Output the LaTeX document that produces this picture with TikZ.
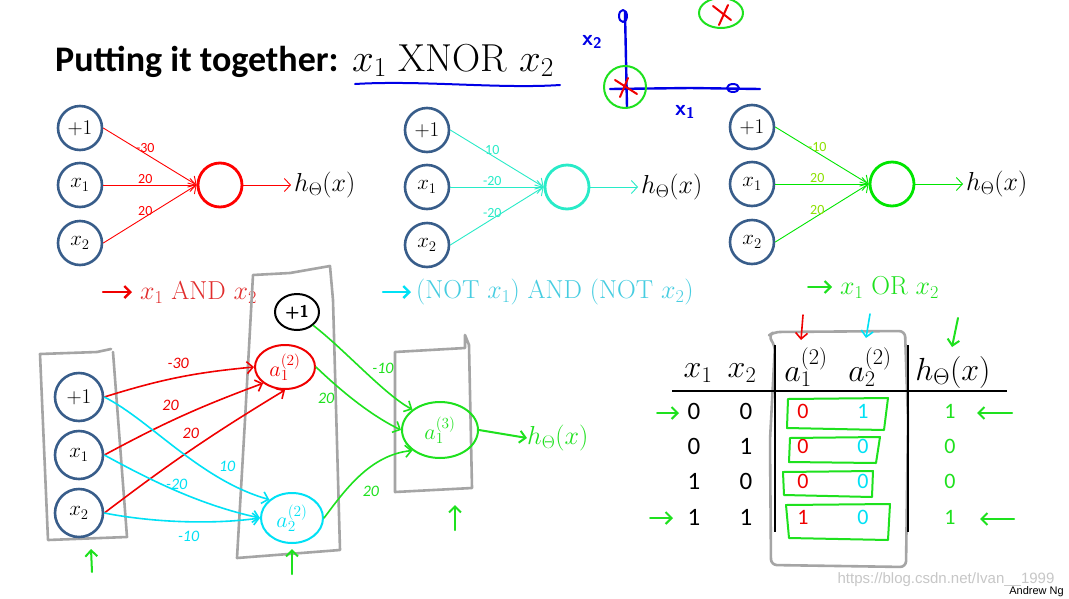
\RequirePackage{fix-cm}
\documentclass[tikz,border=0pt]{standalone}
\usepackage{fontspec}
\newfontfamily\calfont{Carlito}
\newfontfamily\arialfont{Liberation Sans}
\usetikzlibrary{arrows.meta,shapes.geometric}
\definecolor{unitblue}{RGB}{56,93,138}
\definecolor{netred}{RGB}{255,0,0}
\definecolor{netaqua}{RGB}{40,235,200}
\definecolor{netgreen}{RGB}{0,230,0}
\definecolor{wgreen}{RGB}{140,225,0}
\definecolor{andred}{RGB}{225,45,45}
\definecolor{notcyan}{RGB}{70,205,225}
\definecolor{penblue}{RGB}{0,0,230}
\definecolor{penred}{RGB}{240,0,0}
\definecolor{pencyan}{RGB}{0,225,245}
\definecolor{pengreen}{RGB}{30,225,30}
\definecolor{pengray}{RGB}{165,165,165}
\tikzset{
  unit/.style={circle,draw=unitblue,line width=2.6pt,fill=white,
    minimum size=44pt,inner sep=0pt,font=\fontsize{21}{24}\selectfont},
  outunit/.style={circle,draw=#1,line width=2.8pt,minimum size=44pt,inner sep=0pt},
  wire/.style={draw=#1,line width=0.9pt,-{Straight Barb[length=6pt,width=13pt]}},
  wlabel/.style={font=\calfont\fontsize{14}{16}\selectfont,inner sep=1pt},
  pen/.style={draw=#1,line width=2pt,line cap=round,line join=round},
  penarrow/.style={pen=#1,-{Straight Barb[length=6pt,width=12pt]}},
  hand/.style={font=\calfont\itshape\fontsize{16}{17}\selectfont,inner sep=0pt},
  handunit/.style={ellipse,pen=#1,inner sep=0pt,text=#1,font=\fontsize{22}{24}\selectfont},
  gatetext/.style={anchor=west,inner sep=0pt,font=\fontsize{26}{29}\selectfont},
  headcell/.style={font=\fontsize{32}{34}\selectfont,inner sep=0pt},
  cell/.style={font=\calfont\fontsize{25}{28}\selectfont,inner sep=0pt},
  handcell/.style={font=\calfont\fontsize{22}{24}\selectfont,inner sep=0pt,text=#1},
}
% one gate: name, x, y of x_1, colour, label colour, three weights
\newcommand\gatenet[8]{
  \def\gn{#1} \def\gx{#2} \def\gy{#3}
  \node[unit] (\gn0) at (\gx,\gy-57) {$+1$};
  \node[unit] (\gn1) at (\gx,\gy) {$x_1$};
  \node[unit] (\gn2) at (\gx,\gy+58) {$x_2$};
  \node[outunit=#4] (\gn out) at (\gx+140,\gy) {};
  \node[anchor=west,inner sep=3pt,font=\fontsize{26}{29}\selectfont]
    (\gn h) at (\gx+211,\gy) {$h_\Theta(x)$};
  \draw[wire=#4] (\gn0.east) -- node[wlabel,pos=.45,above,text=#5]{#6} (\gn out.west);
  \draw[wire=#4] (\gn1.east) -- node[wlabel,pos=.45,above,text=#5]{#7} (\gn out.west);
  \draw[wire=#4] (\gn2.east) -- node[wlabel,pos=.45,above,text=#5]{#8} (\gn out.west);
  \draw[wire=#4] (\gn out.east) -- (\gn h.west);
}

\begin{document}
\begin{tikzpicture}[x=1pt,y=-1pt]
\useasboundingbox[fill=white] (0,0) rectangle (1069,598);

% title
\node[anchor=base west,inner sep=0pt,font=\calfont\bfseries\fontsize{36}{40}\selectfont]
  (title) at (55,71) {Putting it together:};
\node[anchor=base west,inner sep=0pt,font=\fontsize{39}{42}\selectfont]
  (xnor) at (352,71) {$x_1$ XNOR $x_2$};
\draw[pen=penblue] (355,84) .. controls (420,80) and (500,89) .. (560,85);

% x1, x2 plane
\draw[pen=penblue,line width=2.4pt] (625,12) -- (626,60) -- (627,107);
\draw[pen=penblue,line width=2.4pt] (610,89) -- (690,88) -- (760,89);
\draw[pen=penblue] (623,16) ellipse [x radius=4,y radius=6];
\draw[pen=penblue] (733,88) ellipse [x radius=6,y radius=4];
\node[text=penblue,inner sep=0pt,font=\sffamily\bfseries\fontsize{22}{24}\selectfont]
  (axisy) at (592,42) {x\textsubscript{2}};
\node[text=penblue,inner sep=0pt,font=\sffamily\bfseries\fontsize{22}{24}\selectfont]
  (axisx) at (685,112) {x\textsubscript{1}};
\draw[pen=pengreen] (625,87) circle [radius=21];
\draw[pen=penred] (615,80) -- (637,94) (628,78) -- (620,97);
\draw[pen=pengreen] (721,13) ellipse [x radius=22,y radius=15];
\draw[pen=penred] (713,6) -- (731,20) (728,5) -- (719,25);

% the three gates
\gatenet{and}{80}{185}{netred}{netred}{-30}{20}{20}
\gatenet{nor}{427}{187}{netaqua}{netaqua}{10}{-20}{-20}
\gatenet{or}{752}{184}{netgreen}{wgreen}{-10}{20}{20}

% gate names
\node[gatetext,text=andred] (andname) at (140,292) {$x_1$ AND $x_2$};
\node[gatetext,text=notcyan] (norname) at (416,292) {(NOT $x_1$) AND (NOT $x_2$)};
\node[gatetext,text=pengreen] (orname) at (840,287) {$x_1$ OR $x_2$};
\draw[penarrow=penred,line width=2.4pt] ([xshift=-37pt]andname.west) -- ([xshift=-8pt]andname.west);
\draw[penarrow=pencyan,line width=2.4pt] ([xshift=-33pt]norname.west) -- ([xshift=-5pt]norname.west);
\draw[penarrow=pengreen] ([xshift=-32pt]orname.west) -- ([xshift=-8pt]orname.west);

% hand drawn layers
\draw[pen=pengray,line width=2.6pt] (48,540) -- (40,354) -- (97,352) -- (111,349)
  (113,352) -- (127,537) -- (48,540);
\draw[pen=pengray,line width=2.6pt] (253,275) -- (290,273) -- (330,266) -- (333,300)
  -- (340,550) -- (237,558) -- (245,420) -- (253,275);
\draw[pen=pengray,line width=2.6pt] (395,352) -- (430,350) -- (465,348) -- (465,335)
  -- (469,345) -- (472,488) -- (395,492) -- (395,352);

% network
\node[unit,minimum size=48pt] (in0) at (79,397) {$+1$};
\node[unit,minimum size=48pt] (in1) at (79,455) {$x_1$};
\node[unit,minimum size=48pt] (in2) at (79,513) {$x_2$};
\node[handunit=black,minimum width=44pt,minimum height=36pt,font=\sffamily\bfseries\fontsize{17}{19}\selectfont]
  (bias2) at (297,312) {+1};
\node[handunit=penred,minimum width=60pt,minimum height=44pt] (a1) at (285,367) {$a^{(2)}_1$};
\node[handunit=pencyan,minimum width=62pt,minimum height=50pt] (a2) at (292,518) {$a^{(2)}_2$};
\node[handunit=pengreen,minimum width=76pt,minimum height=56pt] (a3) at (440,430) {$a^{(3)}_1$};
\node[anchor=west,inner sep=0pt,text=pengreen,font=\fontsize{26}{28}\selectfont]
  (hout) at (527,438) {$h_\Theta(x)$};

\draw[penarrow=penred,line width=1.6pt] (in0.east) to[bend left=6]
  node[hand,text=penred,pos=.5,above=8pt]{-30} (a1.west);
\draw[penarrow=penred,line width=1.6pt] (in1.east) to[bend left=4]
  node[hand,text=penred,pos=.42,above=10pt]{20} (a1.south west);
\draw[penarrow=penred,line width=1.6pt] (in2.east) to[bend left=3]
  node[hand,text=penred,pos=.56,above left=3pt]{20} (a1.south);
\draw[penarrow=pencyan,line width=1.6pt] (in0.east) .. controls (150,420) and (200,480) ..
  node[hand,text=pencyan,pos=.72,above right=3pt]{10} (a2.north west);
\draw[penarrow=pencyan,line width=1.6pt] (in1.east) .. controls (150,480) and (200,505) ..
  node[hand,text=pencyan,pos=.5,above=1pt]{-20} (a2.west);
\draw[penarrow=pencyan,line width=1.6pt] (in2.east) .. controls (150,522) and (210,525) ..
  node[hand,text=pencyan,pos=.55,below=9pt]{-10} (a2.west);
\draw[penarrow=pengreen,line width=1.6pt] (bias2.south east) .. controls (345,350) and (385,395) ..
  node[hand,text=pengreen,pos=.55,above right=2pt]{-10} (a3.north west);
\draw[penarrow=pengreen,line width=1.6pt] (a1.east) .. controls (340,390) and (370,415) ..
  node[hand,text=pengreen,pos=.3,below left=4pt]{20} (a3.west);
\draw[penarrow=pengreen,line width=1.6pt] (a2.east) .. controls (345,490) and (370,455) ..
  node[hand,text=pengreen,pos=.45,below right=6pt]{20} (a3.south west);
\draw[penarrow=pengreen] (a3.east) -- (hout.west);

\draw[penarrow=pengreen] (92,572) -- (91,549);
\draw[penarrow=pengreen] (292,574) -- (292,549);
\draw[penarrow=pengreen] (455,530) -- (455,505);

% truth table
\draw[pen=pengray,line width=2.6pt,rounded corners=6pt] (774,332) -- (905,331) -- (908,420)
  -- (906,567) -- (771,565) -- (770,440) -- (775,345) -- (768,336) -- cycle;
\node[headcell] (hx1) at (698,373) {$x_1$};
\node[headcell] (hx2) at (742,373) {$x_2$};
\node[headcell] (ha1) at (806,367) {$a^{(2)}_1$};
\node[headcell] (ha2) at (870,367) {$a^{(2)}_2$};
\node[headcell] (hh) at (953,372) {$h_\Theta(x)$};
\draw[line width=1.3pt] (672,391) -- (1007,391);
\draw[line width=1.6pt] (775,345) -- (775,532);
\draw[line width=1.6pt] (908,345) -- (908,532);

\foreach \r/\y/\p/\q/\s/\t/\h in {1/411/0/0/0/1/1, 2/446/0/1/0/0/0, 3/481/1/0/0/0/0, 4/517/1/1/1/0/1}
{
  \node[cell] (c\r a) at (694,\y) {\p};
  \node[cell] (c\r b) at (746,\y) {\q};
  \node[handcell=penred] (c\r c) at (803,\y) {\s};
  \node[handcell=pencyan] (c\r d) at (863,\y) {\t};
  \node[handcell=pengreen] (c\r e) at (950,\y) {\h};
}
\draw[pen=pengreen] (788,399) -- (888,398) -- (884,430) -- (787,428) -- cycle;
\draw[pen=pengreen] (790,438) -- (880,437) -- (876,463) -- (789,462) -- cycle;
\draw[pen=pengreen] (783,472) -- (873,471) -- (872,497) -- (784,495) -- cycle;
\draw[pen=pengreen] (786,505) -- (890,504) -- (888,540) -- (789,538) -- cycle;

\draw[penarrow=penred,line width=1.6pt] (803,315) -- (801,340);
\draw[penarrow=pencyan,line width=1.6pt] (870,314) -- (866,338);
\draw[penarrow=pengreen] (958,318) -- (952,347);
\draw[penarrow=pengreen] (657,413) -- (679,413);
\draw[penarrow=pengreen] (650,518) -- (673,518);
\draw[penarrow=pengreen] (1012,413) -- (977,413);
\draw[penarrow=pengreen] (1014,519) -- (980,519);

% footer
\node[text=black!22,font=\arialfont\fontsize{15}{17}\selectfont] (wmark) at (946,580)
  {https://blog.csdn.net/Ivan\_\_1999};
\node[anchor=east,inner sep=0pt,font=\arialfont\fontsize{11}{12}\selectfont] (author)
  at (1064,592) {Andrew Ng};
\end{tikzpicture}
\end{document}
